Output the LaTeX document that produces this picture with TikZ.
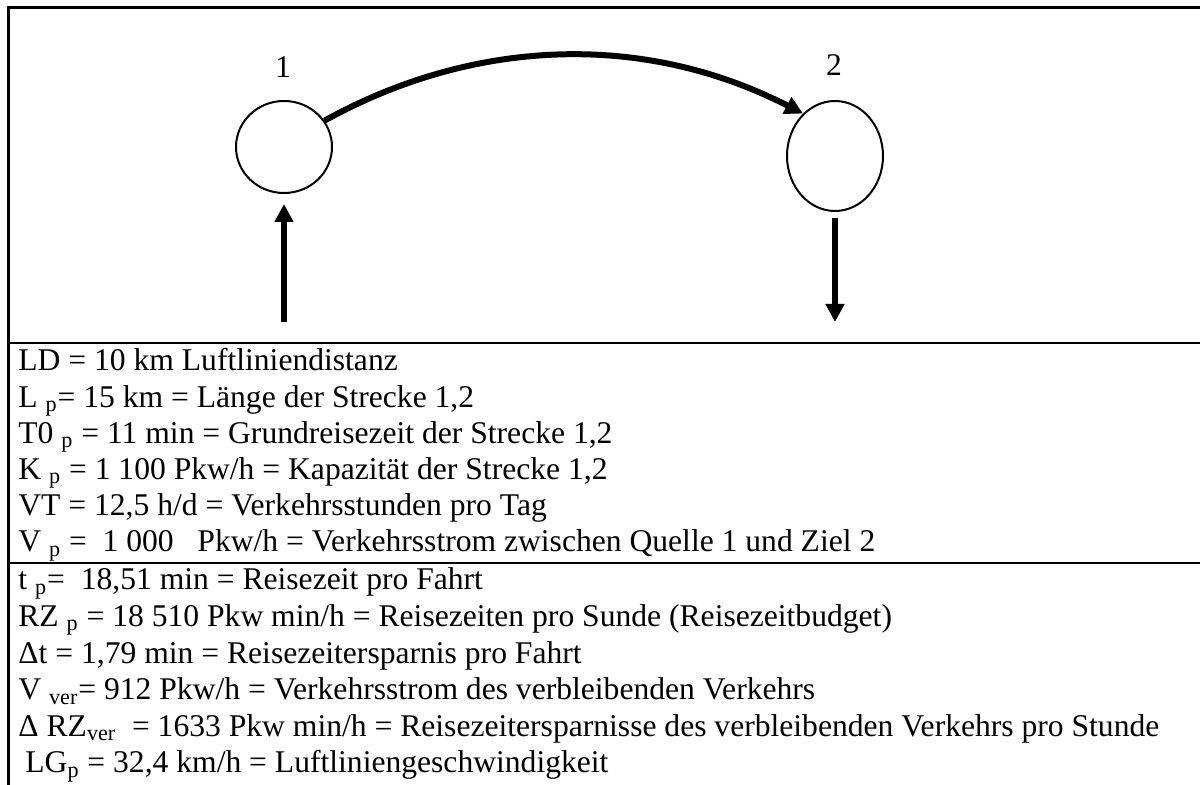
\documentclass[tikz,border=0pt]{standalone}
\usepackage{fontspec}
\setmainfont{Liberation Serif}
\usetikzlibrary{arrows.meta,shapes.geometric}

\tikzset{
  zone/.style={ellipse, draw, line width=1pt, minimum width=48pt, inner sep=0pt},
  flow/.style={line width=3pt, -{Triangle[width=9pt,length=9pt]}},
  frame/.style={line width=1.5pt},
  rule/.style={line width=1pt},
  label/.style={font=\fontsize{15.8}{18}\selectfont, inner sep=0pt},
  row/.style={font=\fontsize{15.8}{18}\selectfont, inner sep=0pt, anchor=base west}
}

\begin{document}
\begin{tikzpicture}[x=0.5pt,y=-0.5pt]
\useasboundingbox (0,0) rectangle (1200,785);

% frame and section rules
\draw[frame] (8,785) -- (8,8) -- (1200,8);
\draw[rule] (8,343) -- (1200,343);
\draw[rule] (8,563) -- (1200,563);

% origin and destination zones
\node[zone, minimum height=46pt] (c1) at (284,147) {};
\node[zone, minimum height=55pt] (c2) at (835,156) {};
\node[label] (n1) at (283,67) {1};
\node[label] (n2) at (834,65) {2};

% link 1 -> 2
\draw[flow] (c1.33) .. controls (470,40) and (640,30) .. (c2.127);

% generated and attracted traffic
\coordinate (src) at (284,322);
\coordinate (snk) at (835,322);
\draw[flow, shorten >=5pt] (src) -- (c1);
\draw[flow, shorten <=3pt] (c2) -- (snk);

% input data
\node[row] (l1) at (18,371) {LD = 10 km Luftliniendistanz};
\node[row] (l2) at (18,407.2) {L \textsubscript{p}= 15 km = Länge der Strecke 1,2};
\node[row] (l3) at (18,443.4) {T0 \textsubscript{p} = 11 min = Grundreisezeit der Strecke 1,2};
\node[row] (l4) at (18,479.6) {K \textsubscript{p} = 1 100 Pkw/h = Kapazität der Strecke 1,2};
\node[row] (l5) at (18,515.8) {VT = 12,5 h/d = Verkehrsstunden pro Tag};
\node[row] (l6) at (18,552) {V \textsubscript{p} =\ \ 1 000\ \ \ Pkw/h = Verkehrsstrom zwischen Quelle 1 und Ziel 2};

% results
\node[row] (l7) at (18,590) {t \textsubscript{p}=\ \ 18,51 min = Reisezeit pro Fahrt};
\node[row] (l8) at (18,626.6) {RZ \textsubscript{p} = 18 510 Pkw min/h = Reisezeiten pro Sunde (Reisezeitbudget)};
\node[row] (l9) at (18,663.2) {Δt = 1,79 min = Reisezeitersparnis pro Fahrt};
\node[row] (l10) at (18,699.8) {V \textsubscript{ver}= 912 Pkw/h = Verkehrsstrom des verbleibenden Verkehrs};
\node[row] (l11) at (18,736.4) {Δ RZ\textsubscript{ver}\ \ = 1633 Pkw min/h = Reisezeitersparnisse des verbleibenden Verkehrs pro Stunde};
\node[row] (l12) at (25,773) {LG\textsubscript{p} = 32,4 km/h = Luftliniengeschwindigkeit};
\end{tikzpicture}
\end{document}
